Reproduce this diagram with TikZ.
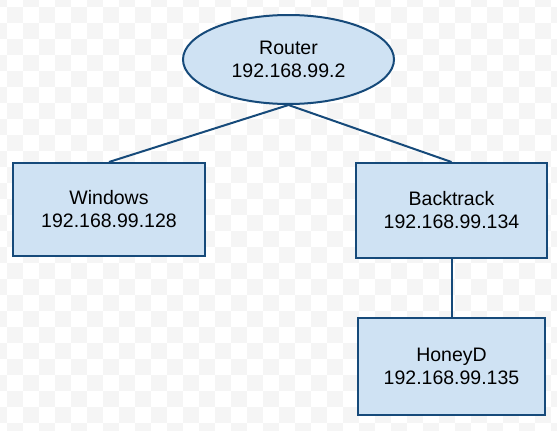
\documentclass[tikz,border=0pt]{standalone}
\usepackage{fontspec}
\setmainfont{Liberation Sans}
\usetikzlibrary{shapes.geometric}
\definecolor{boxfill}{HTML}{CFE2F3}
\definecolor{boxline}{HTML}{164A7A}
\definecolor{chk}{HTML}{F5F5F5}
\begin{document}
\begin{tikzpicture}[x=1pt,y=-1pt,
  lbl/.style={font=\fontsize{19.5}{23}\selectfont, align=center, text=black},
  netbox/.style={lbl, draw=boxline, fill=boxfill, line width=2pt, rectangle, inner sep=0pt},
  netell/.style={lbl, draw=boxline, fill=boxfill, line width=2pt, ellipse, inner sep=0pt},
  link/.style={draw=boxline, line width=2pt}]
\useasboundingbox (0,0) rectangle (557,431);
\fill[white] (0,0) rectangle (557,431);
\begin{scope}
\clip (0,0) rectangle (557,431);
\foreach \i in {-1,...,34}{
  \foreach \j in {-1,...,26}{
    \pgfmathtruncatemacro{\chkpar}{mod(\i+\j+100,2)}
    \ifnum\chkpar=0
      \fill[chk] ({7+16*\i},{7+16*\j}) rectangle ++(16,16);
    \fi
  }
}
\end{scope}
\node[netell, minimum width=211pt, minimum height=89pt] (router) at (288.5,59.5) {Router\\192.168.99.2};
\node[netbox, minimum width=192pt, minimum height=93pt] (win) at (109,209.5) {Windows\\192.168.99.128};
\node[netbox, minimum width=191pt, minimum height=95pt] (bt) at (451.5,210.5) {Backtrack\\192.168.99.134};
\node[netbox, minimum width=187pt, minimum height=97pt] (hd) at (451.5,366.5) {HoneyD\\192.168.99.135};
\draw[link] (router.south) -- (win.north);
\draw[link] (router.south) -- (bt.north);
\draw[link] (bt.south) -- (hd.north);
\end{tikzpicture}
\end{document}
